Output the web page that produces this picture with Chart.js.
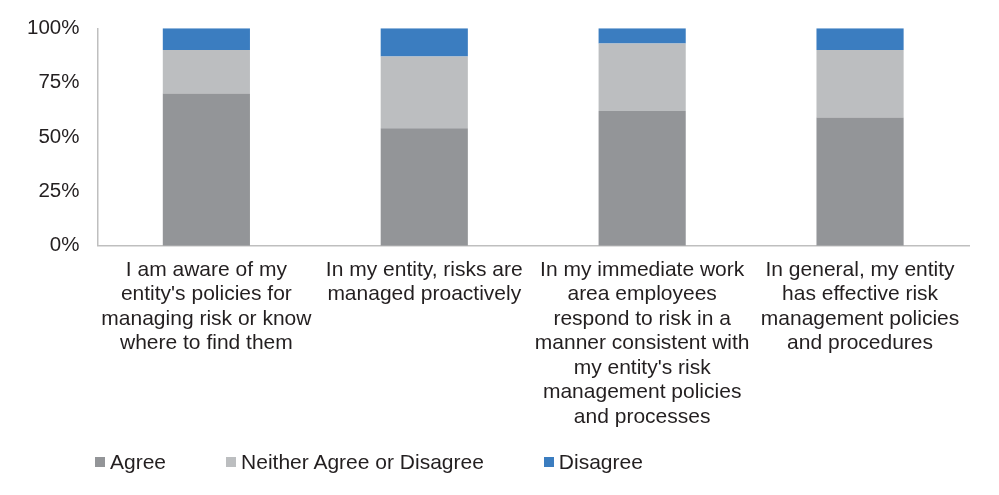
<!DOCTYPE html>
<html>
<head>
<meta charset="utf-8">
<script src="https://cdn.jsdelivr.net/npm/chart.js@4"></script>
<style>
  html, body { margin: 0; padding: 0; background: #fff; }
  #wrap { position: relative; width: 999px; height: 495px; }
  #legend {
    position: absolute; left: 95px; top: 450px;
    display: flex; font: 21px "Liberation Sans", Arial, sans-serif; color: #231f20;
  }
  .item { display: flex; align-items: center; margin-right: 60px; }
  .box { width: 10px; height: 10px; margin-right: 5px; }
</style>
</head>
<body>
<div id="wrap">
  <canvas id="chart" width="999" height="495"></canvas>
  <div id="legend"></div>
</div>
<script>
// ── Data ────────────────────────────────────────────────────────────────────
const categories = [
  ["I am aware of my", "entity's policies for", "managing risk or know", "where to find them"],
  ["In my entity, risks are", "managed proactively"],
  ["In my immediate work", "area employees", "respond to risk in a", "manner consistent with",
   "my entity's risk", "management policies", "and processes"],
  ["In general, my entity", "has effective risk", "management policies", "and procedures"],
];
const seriesNames = ["Agree", "Neither Agree or Disagree", "Disagree"];
const agree    = [70, 54, 62, 59];
const neither  = [20, 33, 31, 31];
const disagree = [10, 13, 7, 10];
const yTicks   = [0, 25, 50, 75, 100];

const colors = ["#939598", "#bcbec0", "#3b7dc0"];
const FONT = "'Liberation Sans', Arial, sans-serif";

Chart.defaults.font.family = FONT;
Chart.defaults.color = "#231f20";

// ── Chart ───────────────────────────────────────────────────────────────────
const values = [agree, neither, disagree];

new Chart(document.getElementById("chart").getContext("2d"), {
  type: "bar",
  data: {
    labels: categories,
    datasets: seriesNames.map((name, i) => ({
      label: name,
      data: values[i],
      backgroundColor: colors[i],
      borderWidth: 0,
      categoryPercentage: 1,
      barPercentage: 0.4,
    })),
  },
  options: {
    responsive: false,
    animation: false,
    layout: { padding: { top: 12, right: 30, bottom: 54, left: 9 } },
    plugins: {
      legend: { display: false },
      tooltip: { enabled: false },
    },
    scales: {
      x: {
        stacked: true,
        grid: { display: false, drawTicks: false },
        border: { display: true, color: "#bfbfbf", width: 1.5 },
        ticks: { font: { size: 21, lineHeight: 1.165 }, padding: 12, maxRotation: 0, autoSkip: false },
        // long wrapped labels may overhang the plot edges, as in the original
        afterFit: (axis) => { axis.paddingLeft = 0; axis.paddingRight = 0; },
      },
      y: {
        stacked: true,
        min: 0,
        max: 100,
        afterBuildTicks: (axis) => { axis.ticks = yTicks.map((v) => ({ value: v })); },
        grid: { display: false, drawTicks: false },
        border: { display: true, color: "#bfbfbf", width: 1.5 },
        ticks: { font: { size: 20.5, lineHeight: 1 }, padding: 18, callback: (v) => v + "%" },
      },
    },
  },
});

// ── Legend ──────────────────────────────────────────────────────────────────
document.getElementById("legend").innerHTML = seriesNames.map((name, i) =>
  `<div class="item"><span class="box" style="background:${colors[i]}"></span>${name}</div>`
).join("");
</script>
</body>
</html>
